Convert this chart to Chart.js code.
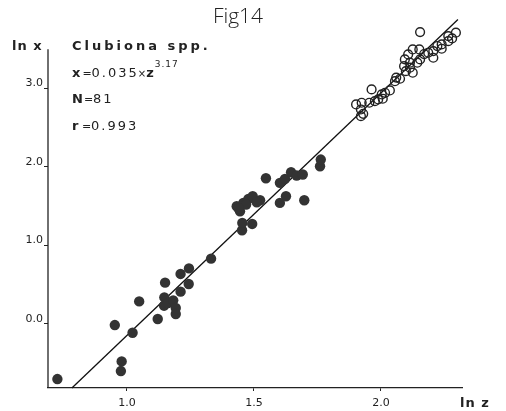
<!DOCTYPE html>
<html>
<head>
<meta charset="utf-8">
<script src="https://cdn.jsdelivr.net/npm/chart.js@4"></script>
<style>
  html, body { margin: 0; padding: 0; background: #fff; }
  #wrap { width: 506px; height: 411px; }
</style>
</head>
<body>
<div id="wrap"><canvas id="myChart"></canvas></div>
<script>
// ln z / ln x of the filled points (lower range)
const filledZ = [0.726, 0.952, 1.022, 0.979, 0.976, 1.048, 1.121, 1.150, 1.147, 1.146,
  1.161, 1.182, 1.192, 1.192, 1.211, 1.244, 1.211, 1.243, 1.331, 1.453,
  1.493, 1.454, 1.432, 1.445, 1.458, 1.478, 1.495, 1.524, 1.511, 1.547,
  1.602, 1.626, 1.698, 1.602, 1.622, 1.646, 1.668, 1.692, 1.760, 1.763,
  1.469, 1.440];
const filledX = [-0.706, -0.017, -0.115, -0.481, -0.604, 0.285, 0.060, 0.524, 0.336, 0.230,
  0.264, 0.298, 0.201, 0.124, 0.635, 0.706, 0.409, 0.507, 0.830, 1.192,
  1.273, 1.286, 1.498, 1.434, 1.541, 1.593, 1.626, 1.575, 1.549, 1.856,
  1.541, 1.626, 1.575, 1.797, 1.848, 1.932, 1.890, 1.903, 2.009, 2.094,
  1.520, 1.470];

// open circles (upper range)
const openZ = [2.154, 2.295, 2.265, 2.265, 2.239, 2.239, 2.206, 2.206, 2.222, 2.186,
  2.151, 2.125, 2.154, 2.143, 2.107, 2.094, 2.091, 2.114, 2.098, 2.125,
  2.114, 2.075, 2.055, 2.035, 1.963, 2.003, 1.989, 2.007, 1.976, 1.954,
  1.924, 1.902, 1.921, 1.921, 1.930, 2.016, 2.280, 2.170, 2.060];
const openX = [3.720, 3.713, 3.669, 3.605, 3.563, 3.508, 3.478, 3.393, 3.542, 3.457,
  3.499, 3.499, 3.372, 3.330, 3.435, 3.372, 3.286, 3.266, 3.222, 3.202,
  3.330, 3.125, 3.094, 2.976, 2.989, 2.925, 2.861, 2.870, 2.839, 2.819,
  2.819, 2.797, 2.733, 2.648, 2.678, 2.946, 3.640, 3.440, 3.140];

// fitted line end points
const fitZ = [0.783, 2.303];
const fitX = [-0.82, 3.88];

const xTicks = [1.0, 1.5, 2.0];
const yTicks = [0.0, 1.0, 2.0, 3.0];

const toPts = (a, b) => a.map((v, i) => ({x: v, y: b[i]}));

const textPlugin = {
  id: 'texts',
  afterDraw(chart) {
    const c = chart.ctx;
    const ys = chart.scales.y, xs = chart.scales.x;
    c.save();
    // y axis line (shorter than the plot area)
    c.strokeStyle = '#222';
    c.lineWidth = 1.3;
    c.beginPath();
    c.moveTo(xs.left, ys.getPixelForValue(3.5));
    c.lineTo(xs.left, ys.bottom);
    c.stroke();

    c.fillStyle = '#222';
    c.textBaseline = 'alphabetic';
    c.font = '300 21px "Open Sans"';
    c.textAlign = 'center';
    c.fillText('Fig14', 238, 23);

    c.textAlign = 'left';
    c.font = 'bold 13px "DejaVu Sans"';
    c.letterSpacing = '1px';
    c.fillText('ln x', 12, 50);
    c.fillText('ln z', 460, 407);
    c.letterSpacing = '3px';
    c.fillText('Clubiona spp.', 72, 50);

    // equation
    let x = 72;
    c.letterSpacing = '0px';
    c.font = 'bold 13px "DejaVu Sans"';
    c.fillText('x', x, 77); x += c.measureText('x').width + 2;
    c.font = '11px "DejaVu Sans"';
    c.fillText('=', x, 77); x += c.measureText('=').width;
    c.font = '13px "DejaVu Sans"';
    c.letterSpacing = '2px';
    c.fillText('0.035', x, 77); x += c.measureText('0.035').width - 1;
    c.letterSpacing = '0px';
    c.font = '10px "DejaVu Sans"';
    c.fillText('×', x, 77); x += c.measureText('×').width;
    c.font = 'bold 13px "DejaVu Sans"';
    c.fillText('z', x, 77); x += c.measureText('z').width + 1;
    c.font = '9px "DejaVu Sans"';
    c.letterSpacing = '1px';
    c.fillText('3.17', x, 67);

    c.letterSpacing = '0px';
    c.font = 'bold 13px "DejaVu Sans"';
    c.fillText('N', 72, 103);
    let w = c.measureText('N').width;
    c.font = '11px "DejaVu Sans"';
    c.fillText('=', 72 + w + 1, 103);
    c.font = '13px "DejaVu Sans"';
    c.letterSpacing = '2px';
    c.fillText('81', 72 + w + 10, 103);

    c.letterSpacing = '0px';
    c.font = 'bold 13px "DejaVu Sans"';
    c.fillText('r', 72, 130);
    c.font = '11px "DejaVu Sans"';
    c.fillText('=', 82, 130);
    c.font = '13px "DejaVu Sans"';
    c.letterSpacing = '2px';
    c.fillText('0.993', 91, 130);
    c.restore();
  }
};

new Chart(document.getElementById('myChart'), {
  type: 'scatter',
  data: {
    datasets: [
      {
        label: 'filled',
        data: toPts(filledZ, filledX),
        backgroundColor: '#333',
        borderColor: '#333',
        borderWidth: 0,
        pointRadius: 5.2,
        clip: false
      },
      {
        label: 'open',
        data: toPts(openZ, openX),
        backgroundColor: 'rgba(255,255,255,0)',
        borderColor: '#222',
        borderWidth: 1.4,
        pointRadius: 4.4,
        clip: false
      },
      {
        type: 'line',
        label: 'fit',
        data: toPts(fitZ, fitX),
        borderColor: '#111',
        borderWidth: 1.3,
        pointRadius: 0,
        fill: false,
        clip: false
      }
    ]
  },
  options: {
    responsive: true,
    maintainAspectRatio: false,
    animation: false,
    layout: { padding: { top: 18, right: 44, left: 0, bottom: 0 } },
    plugins: { legend: { display: false }, tooltip: { enabled: false } },
    scales: {
      x: {
        type: 'linear',
        min: 0.689,
        max: 2.319,
        afterFit(scale) { scale.height = 23; },
        afterBuildTicks(scale) { scale.ticks = xTicks.map(v => ({value: v})); },
        border: { display: true, color: '#222', width: 1.3 },
        grid: { drawOnChartArea: false, drawTicks: true, tickLength: 3, color: '#222' },
        ticks: {
          color: '#222',
          padding: 6,
          font: { family: 'DejaVu Sans', size: 11 },
          callback: v => Number(v).toFixed(1)
        }
      },
      y: {
        type: 'linear',
        min: -0.82,
        max: 3.9,
        afterFit(scale) { scale.width = 48; },
        afterBuildTicks(scale) { scale.ticks = yTicks.map(v => ({value: v})); },
        border: { display: false },
        grid: { drawOnChartArea: false, drawTicks: true, tickLength: 4, color: '#222' },
        ticks: {
          color: '#222',
          padding: 1,
          labelOffset: -5,
          font: { family: 'DejaVu Sans', size: 11 },
          callback: v => Number(v).toFixed(1)
        }
      }
    }
  },
  plugins: [textPlugin]
});
</script>
</body>
</html>
